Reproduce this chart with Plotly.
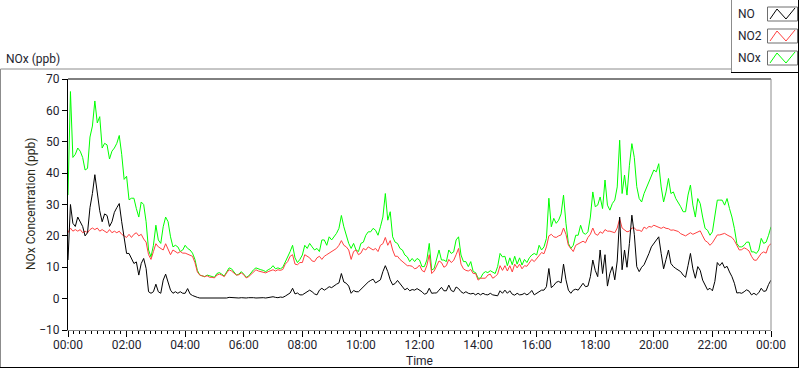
import pandas as pd
import plotly.graph_objects as go

# ---- data (5-minute readings, 00:00 .. 24:00) ----
times = pd.date_range("2000-01-01 00:00", periods=289, freq="5min")

nox = [
    33, 66, 45, 46, 48, 47, 45, 41, 41.5, 51.5, 55, 63, 56, 58, 48, 49.5, 49, 44.5, 47, 48,
    49.5, 52, 46, 38, 39, 31.5, 32, 32, 28.7, 26, 30.8, 30, 24.5, 15.5, 13.3, 17, 23.4, 18.7, 17.6, 22.9,
    26, 24.5, 19.7, 16.5, 17, 16.5, 15, 15.5,
    17, 16, 15.5, 14.5, 12.5, 9, 7.5, 7.2, 7, 7.5, 7.3, 7, 6.8, 8, 8.3, 7.8, 7.2, 8.5, 9.8, 9.5,
    8.5, 7.5, 7.8, 8.6, 7.8, 6.8, 7.2, 8.4, 9.2, 9.8, 9.4, 9.2, 9, 8.6, 9.2, 9.6, 10.5, 9.5, 9.8, 9.5,
    10, 11.5, 13, 15, 17, 13, 11.5, 12.5,
    13.9, 17, 16, 17.6, 16.5, 15.5, 16, 15, 18.7, 18.7, 17, 19.7, 18.7, 19.7, 20.8, 22.4, 26.5, 22.9, 20.2, 17.6,
    16, 17.6, 15.5, 15, 17.6, 18, 20.2, 21.3, 21.3, 22.4, 21.8, 20.2, 22.9, 26, 33.5, 25, 27.7, 19.7, 18, 17.6,
    16, 15.5, 13.9, 13.3, 11.8, 12.8, 11.8, 12.8,
    12.3, 10.2, 10.2, 12.3, 17.6, 9.1, 9.6, 12.3, 15.5, 12.3, 12.3, 11.8, 15.5, 14.4, 14.9, 18.7, 19.7, 13.9, 11.8, 11.8,
    10.2, 11.8, 8.6, 8.3, 6.5, 6.5, 8, 8.6, 8.3, 8.9, 8.3, 8, 10.2, 14.4, 13.3, 13.5, 10.5, 13, 10.8, 13.5,
    11, 13, 10.7, 12.5, 11.5, 13, 13.9, 14.4,
    13.9, 17, 15.5, 16.5, 19.2, 32, 22.9, 25.6, 24, 25, 27, 33, 24, 17.6, 16, 17, 20.2, 20.2, 23.4, 21,
    20.5, 21.3, 26, 34, 29.3, 29.8, 32.4, 28.7, 37.8, 29.8, 28.2, 30.3, 31.4, 35.6, 50.5, 33.5, 39.4, 33, 42.5, 49.4,
    45, 35.7, 31.9, 30.8, 33.5, 35.4, 37.8, 39.4,
    41, 40.4, 43, 35.6, 30.8, 34, 38.3, 33.5, 34, 31.9, 30.8, 29.3, 27.7, 27.7, 33, 36.2, 29.8, 26, 31.9, 30.3,
    26, 22.4, 21.8, 20.2, 21.3, 26, 31.4, 31.4, 31.4, 29.8, 31.9, 28.7, 26, 22.4, 17.6, 16.5, 16.5, 17, 18, 18,
    14.9, 14.9, 14.4, 15.5, 19.2, 17.6, 18, 20.2, 22.9,
]

no2 = [
    21, 22.5, 21.5, 22, 21.5, 22, 21, 21.5, 21, 22, 22.5, 22, 22.5, 21.5, 22, 21.5, 21, 22, 21, 21.5,
    21, 21.5, 20.5, 20, 19.5, 20.5, 19.5, 20.5, 21, 20, 20.5, 19, 18, 14, 12.5, 15, 17.5, 16.5, 16, 15.5,
    17.5, 16, 14, 15.5, 15, 14.5, 15, 14.5,
    14.5, 14.2, 14, 13.5, 11.5, 8.5, 7.5, 7.2, 7, 7.3, 6.8, 6.8, 6.6, 7.5, 7.8, 7.5, 7, 8.2, 9.2, 8.8,
    8, 7.5, 7.6, 8.2, 7.6, 6.6, 7, 7.8, 8.6, 9.2, 8.8, 8.6, 8.5, 8.2, 8.6, 8.8, 9.2, 8.8, 9.2, 9,
    9.3, 11, 11.8, 13.5, 14, 11, 10.8, 11.5,
    11.5, 14, 13.5, 13, 12, 11.8, 13, 13.5, 12.5, 13.5, 14, 14.5, 15, 15.5, 16, 17, 18.5, 17, 16.5, 15.5,
    12.5, 15, 15.5, 14, 14.5, 16, 15.5, 16.5, 16, 15.5, 16, 15, 17, 17.5, 19.5, 17, 18.5, 15.5, 13.5, 13.5,
    12.5, 11.8, 11, 10.5, 10.5, 10.3, 9.5, 9.8,
    10.7, 9, 8.5, 10.5, 14, 8, 8.8, 10.5, 12, 11.5, 10, 10.5, 12.5, 11.5, 12.2, 14, 16, 11, 9.5, 9,
    8.8, 9.3, 8, 8, 5.9, 6.5, 6.5, 6.5, 7.5, 7.8, 6.5, 7, 7.8, 10.5, 9, 10.5, 8.8, 10.5, 8.5, 11,
    9.8, 11, 9.5, 10.5, 10.3, 11.3, 12.5, 11.8,
    12.8, 13.5, 14.7, 14.3, 16.5, 20, 20.5, 19.7, 19.5, 20, 20.3, 22.5, 20.5, 17, 16, 15, 17, 17.5, 18, 18.3,
    17.8, 19.5, 20.5, 22.5, 20.6, 20.2, 21.3, 20.8, 22, 21.5, 21.5, 21.3, 21, 22.5, 25.5, 22.5, 21.8, 21.3, 21.5, 22.5,
    22.5, 21.8, 21.8, 21.4, 22.8, 22.3, 23, 22.8,
    23.4, 23, 22.8, 22.4, 22.8, 22.4, 22.3, 21.8, 21.9, 21.6, 21.4, 20.7, 20.4, 20, 20.5, 21, 20.5, 20.8, 21.2, 21.6,
    20, 18.5, 18, 17, 17.8, 19.2, 20.3, 20.3, 20.5, 20.8, 20.3, 20, 19.5, 18.5, 16.8, 15.5, 15.6, 16.2, 15.8, 15.2,
    13.5, 12.3, 12.2, 13.2, 14.4, 14.9, 14.5, 16.8, 17.5,
]

no = [
    12.3, 30, 24, 23, 26, 24.5, 23, 20, 21, 29, 33.5, 39.5, 33.5, 28, 24.5, 27, 26.5, 23, 24.5, 27.5,
    29, 30.3, 24.5, 19.7, 14.4, 14.4, 12.8, 11.2, 11.7, 7.5, 11.2, 12.8, 9.6, 2.2, 1.7, 2.2, 4.6, 2.2, 1.7, 5.9,
    7.8, 4.9, 2.7, 1.7, 2.2, 1.7, 2.2, 1.7,
    1.7, 3.2, 1.5, 1, 0.6, 0.4, 0.2, 0.2, 0.3, 0.2, 0.1, 0.3, 0.2, 0.1, 0.2, 0.3, 0.2, 0.2, 0.4, 0.3,
    0.2, 0.1, 0.2, 0.3, 0.2, 0.2, 0.3, 0.4, 0.3, 0.2, 0.3, 0.4, 0.3, 0.2, 0.4, 0.5, 0.6, 0.4, 0.3, 0.5,
    0.4, 0.8, 1.2, 1.8, 3.3, 1.5, 1.8, 1.2,
    1.2, 1.7, 2.2, 2.7, 2.2, 1.5, 1.2, 2.7, 3.3, 2.7, 3.2, 3.8, 3.5, 4.2, 4.6, 5, 8, 5.3, 4.9, 4,
    1.7, 2.6, 2.2, 2.2, 3, 3.6, 4.5, 5.3, 5.8, 6.2, 5, 5.5, 6, 8.6, 10.5, 8.6, 6, 4.4, 4.8, 5.8,
    4.9, 3.8, 2.8, 3.3, 2.5, 2.9, 2.7, 3.2,
    2.7, 2.2, 1.4, 1.7, 3.3, 1.7, 1.8, 1.8, 2.7, 3.6, 2.5, 2.5, 4.3, 2.6, 2.2, 3.7, 3.2, 2.2, 1.7, 2.2,
    1.7, 1.5, 1.7, 1.2, 1.7, 1.2, 1.7, 1.3, 1.2, 1.7, 1.2, 1.1, 0.9, 2.5, 1.7, 2.7, 1.7, 2.5, 1.4, 1.1,
    1.7, 1.2, 1.3, 1.7, 1.2, 1.7, 2.6, 1.2,
    1.7, 2.2, 2.7, 2.7, 3.8, 9.6, 3.5, 4.2, 5.2, 5.5, 5, 11, 6, 2.7, 1.7, 2.7, 3, 2.7, 3.8, 4.9,
    3.8, 4, 7, 12.3, 9, 7, 15.5, 8, 14, 4, 8, 10.2, 6, 12, 26, 9.2, 15.5, 10, 17.6, 26.6,
    20.5, 10.2, 8.6, 10, 10.8, 12.5, 14.4, 16.5,
    17.6, 18.6, 19.7, 14.4, 9.5, 12.5, 15.5, 11.2, 10.2, 9.6, 9, 8.6, 7.5, 6.8, 10.5, 14.4, 9.5, 6.5, 10.2, 9,
    5.9, 4.2, 2.8, 3.3, 2.5, 5.5, 11.5, 10.5, 11.5, 9.8, 10.3, 8.5, 7, 4.9, 1.8, 1.9, 1.7, 2.2, 2.8, 2.4,
    1.2, 1.7, 1.2, 1.9, 3.3, 2.3, 2.5, 4.5, 5.9,
]

series_names = ["NO", "NO2", "NOx"]
series_colors = {"NO": "#000000", "NO2": "#ff4040", "NOx": "#00ff00"}
y_ticks = [-10, 0, 10, 20, 30, 40, 50, 60, 70]

# ---- layout geometry (pixels) ----
W, H = 800, 369
L, R, T, B = 68, 771, 79, 330
PW, PH = R - L, B - T


def px(x):
    return (x - L) / PW


def py(y):
    return (B - y) / PH


FONT = "Segoe UI, Roboto, Liberation Sans, Arial, sans-serif"
TXT = "#1e1e2e"

fig = go.Figure()
for name, vals in [("NOx", nox), ("NO2", no2), ("NO", no)]:
    fig.add_trace(go.Scatter(x=times, y=vals, mode="lines", name=name,
                             line=dict(color=series_colors[name], width=1),
                             showlegend=False, hoverinfo="skip"))

shapes = []


def line(x0, y0, x1, y1, color, width=1):
    shapes.append(dict(type="line", xref="paper", yref="paper",
                       x0=px(x0), y0=py(y0), x1=px(x1), y1=py(y1),
                       line=dict(color=color, width=width), layer="above"))


# plot frame
line(L, T, R, T, "#000000")
line(R, T, R, B, "#8c8c8c")
# outer panel
line(0.5, 69, 731, 69, "#8c8c8c")
line(0.5, 69, 0.5, 367.5, "#8c8c8c")
line(0, 367.5, 799, 367.5, "#000000")
line(798.5, 72, 798.5, 368, "#000000")
# legend box
shapes.append(dict(type="rect", xref="paper", yref="paper",
                   x0=px(731), y0=py(72), x1=px(799), y1=py(0),
                   fillcolor="white", line=dict(width=0), layer="above"))
line(731.5, 0, 731.5, 72, "#8c8c8c")
line(731, 72.5, 799, 72.5, "#000000")
line(798.5, 0, 798.5, 72.5, "#000000")

annotations = []
rows = [("NO", 14), ("NO2", 36), ("NOx", 58)]
for name, cy in rows:
    top, bot = cy - 7, cy + 7
    shapes.append(dict(type="rect", xref="paper", yref="paper",
                       x0=px(767.5), y0=py(bot), x1=px(797.5), y1=py(top),
                       fillcolor="white", line=dict(color="#6e6e6e", width=1), layer="above"))
    path = "M {} {} L {} {} L {} {} L {} {}".format(
        px(770), py(bot - 2), px(777), py(top + 2), px(786), py(bot - 2), px(795), py(top + 1))
    shapes.append(dict(type="path", xref="paper", yref="paper", path=path,
                       line=dict(color=series_colors[name], width=1), layer="above"))
    annotations.append(dict(x=px(736), y=py(cy), xref="paper", yref="paper",
                            text=name, showarrow=False, xanchor="left", yanchor="middle",
                            font=dict(family=FONT, size=12, color=TXT)))

annotations.append(dict(x=px(4), y=py(59), xref="paper", yref="paper", text="NOx (ppb)",
                        showarrow=False, xanchor="left", yanchor="middle",
                        font=dict(family=FONT, size=12, color=TXT)))
annotations.append(dict(x=px(31), y=py(204), xref="paper", yref="paper",
                        text="NOx Concentration (ppb)", showarrow=False, textangle=-90,
                        xanchor="center", yanchor="middle",
                        font=dict(family=FONT, size=12, color="#2a2a1a")))
annotations.append(dict(x=px(419), y=py(361), xref="paper", yref="paper", text="Time",
                        showarrow=False, xanchor="center", yanchor="middle",
                        font=dict(family=FONT, size=12, color=TXT)))

fig.update_layout(
    width=W, height=H,
    margin=dict(l=L, r=W - R, t=T, b=H - B, pad=0),
    paper_bgcolor="white", plot_bgcolor="white",
    shapes=shapes, annotations=annotations,
    font=dict(family=FONT, size=12, color=TXT),
    showlegend=False,
    hovermode=False,
)
fig.update_xaxes(
    type="date",
    range=[times[0], times[-1]],
    tickformat="%H:%M", dtick=2 * 3600 * 1000, tick0=times[0],
    ticks="outside", ticklen=6, tickcolor="#000000",
    minor=dict(dtick=12 * 60 * 1000, ticks="outside", ticklen=3, tickcolor="#000000"),
    showline=True, linecolor="#8c8c8c", linewidth=1,
    showgrid=False, zeroline=False,
    ticklabelstandoff=-2,
    tickfont=dict(family=FONT, size=12, color=TXT),
)
fig.update_yaxes(
    range=[-10, 70], tickvals=y_ticks,
    ticks="outside", ticklen=5, tickcolor="#000000",
    showline=True, linecolor="#000000", linewidth=1,
    showgrid=False, zeroline=False,
    tickfont=dict(family=FONT, size=12, color=TXT),
)

fig.write_html(
    "out.html",
    config={"displayModeBar": False, "staticPlot": True},
    post_script="document.body.style.margin='0px';document.body.style.padding='0px';"
                "document.body.style.overflow='hidden';",
)
